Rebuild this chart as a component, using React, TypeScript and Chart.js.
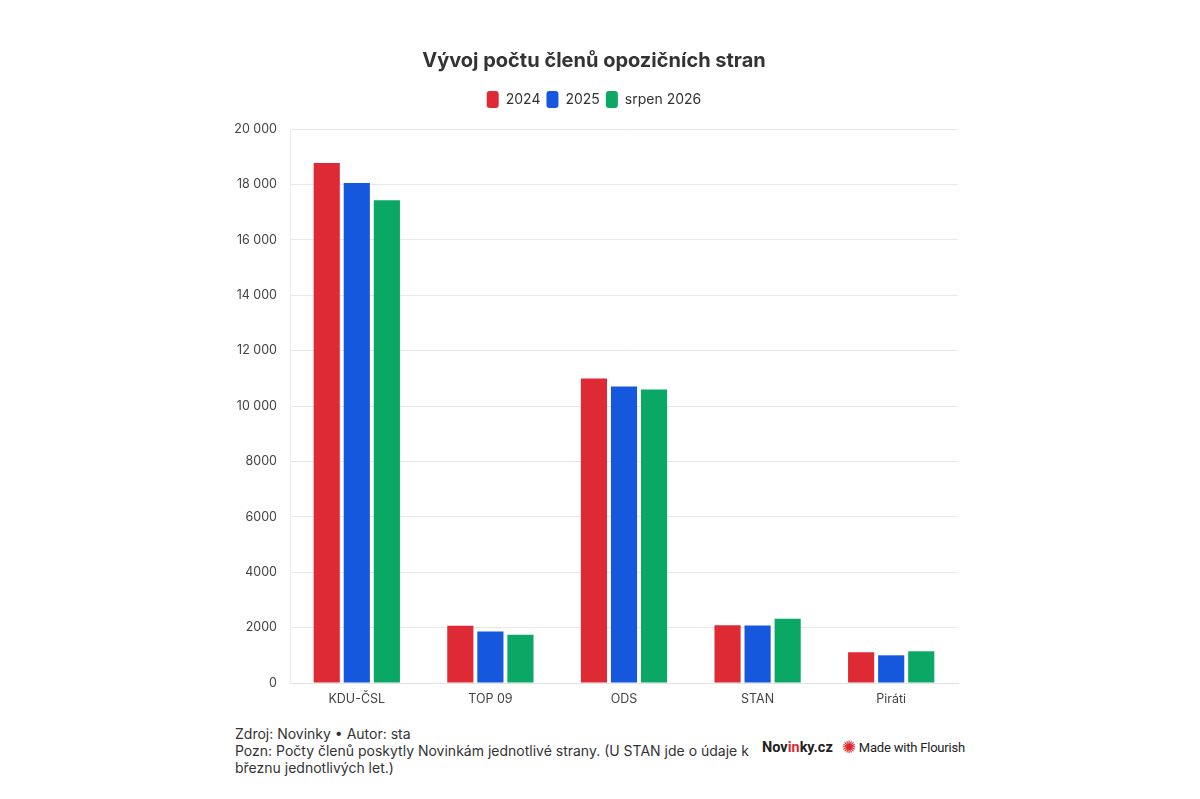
import React, { useEffect, useRef } from "react";
import { Chart, registerables } from "chart.js";

Chart.register(...registerables);

const categories = ["KDU-ČSL", "TOP 09", "ODS", "STAN", "Piráti"];
const seriesNames = ["2024", "2025", "srpen 2026"];
const values2024 = [18770, 2070, 10990, 2085, 1110];
const values2025 = [18050, 1855, 10700, 2075, 1000];
const valuesAug2026 = [17430, 1740, 10600, 2315, 1145];
const colors = ["#dd2a35", "#1558de", "#0ba865"];
const titleText = "Vývoj počtu členů opozičních stran";

const fmt = (v: number) => {
  if (Math.abs(v) >= 10000) {
    return String(v).replace(/\B(?=(\d{3})+(?!\d))/g, " ");
  }
  return String(v);
};

const legendGap = {
  id: "legendGap",
  beforeInit(chart: any) {
    const orig = chart.legend.fit;
    chart.legend.fit = function () {
      orig.bind(chart.legend)();
      this.height += 11;
    };
  },
};

export default function App() {
  const ref = useRef<HTMLCanvasElement | null>(null);

  useEffect(() => {
    document.body.style.margin = "0";
    const ctx = ref.current!;
    const data = [values2024, values2025, valuesAug2026];
    const chart = new Chart(ctx, {
      type: "bar",
      data: {
        labels: categories,
        datasets: seriesNames.map((n, i) => ({
          label: n,
          data: data[i],
          backgroundColor: colors[i],
          borderWidth: 0,
          categoryPercentage: 0.675,
          barPercentage: 0.87,
        })),
      },
      plugins: [legendGap],
      options: {
        responsive: false,
        animation: false,
        maintainAspectRatio: false,
        layout: { padding: { left: 230, right: 242, top: 0, bottom: 15 } },
        plugins: {
          title: {
            display: true,
            text: titleText,
            color: "#333333",
            font: { family: "Inter", size: 20, weight: "bold" },
            padding: { top: 49, bottom: 12 },
          },
          legend: {
            display: true,
            labels: {
              color: "#333333",
              font: { family: "Inter", size: 14 },
              boxWidth: 12,
              boxHeight: 17,
              useBorderRadius: true,
              borderRadius: 3,
              padding: 6,
            },
          },
          tooltip: { enabled: false },
        },
        scales: {
          x: {
            grid: { display: false },
            border: { color: "#e2e2e2" },
            ticks: {
              color: "#444444",
              font: { family: "Inter", size: 12.5 },
              padding: 1,
            },
          },
          y: {
            min: 0,
            max: 20000,
            afterFit: (axis: any) => {
              axis.width = 60;
            },
            grid: { color: "#e8e8e8", drawTicks: false },
            border: { color: "#ececec" },
            ticks: {
              stepSize: 2000,
              color: "#444444",
              font: { family: "Inter", size: 12.5 },
              padding: 13,
              callback: (v: any) => fmt(Number(v)),
            },
          },
        },
      },
    });
    return () => chart.destroy();
  }, []);

  const foot: React.CSSProperties = {
    fontFamily: "Inter, sans-serif",
    fontSize: 14,
    color: "#333",
    lineHeight: "17px",
  };

  return (
    <div style={{ position: "relative", width: 1200, height: 799, background: "#fff", overflow: "hidden" }}>
      <canvas ref={ref} width={1200} height={723} style={{ position: "absolute", left: 0, top: 0, width: 1200, height: 723 }} />
      <div style={{ ...foot, position: "absolute", left: 235, top: 725, width: 520 }}>
        <div>Zdroj: Novinky • Autor: sta</div>
        <div>Pozn: Počty členů poskytly Novinkám jednotlivé strany. (U STAN jde o údaje k březnu jednotlivých let.)</div>
      </div>
      <div style={{ position: "absolute", left: 762, top: 739, display: "flex", alignItems: "center", fontFamily: "Roboto, sans-serif", color: "#222" }}>
        <span style={{ fontWeight: 700, fontSize: 14.5 }}>
          Nov<span style={{ color: "#dd2a35" }}>in</span>ky.cz
        </span>
        <span style={{ color: "#e0262b", fontSize: 17, marginLeft: 9, lineHeight: "17px" }}>✺</span>
        <span style={{ fontSize: 13, marginLeft: 3, letterSpacing: -0.2 }}>Made with Flourish</span>
      </div>
    </div>
  );
}
